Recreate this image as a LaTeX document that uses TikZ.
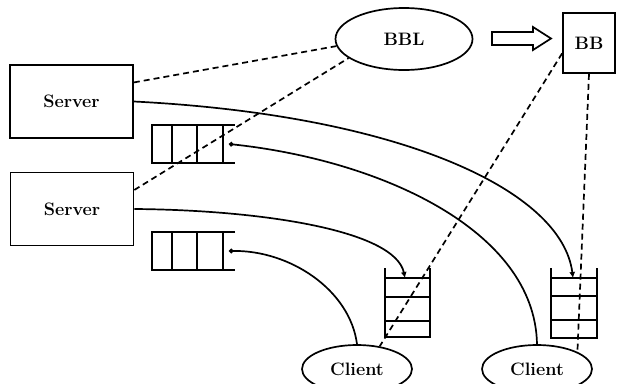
\documentclass[tikz,border=0pt]{standalone}
\usepackage{fontspec}
\usepackage{tikz}
\usetikzlibrary{arrows.meta,shapes.geometric}

\begin{document}
\begin{tikzpicture}[x=1pt, y=-1pt, line width=1.7pt, every node/.style={font=\fontsize{18}{21}\selectfont\bfseries}, srv/.style={rectangle, draw, minimum width=123pt, minimum height=73pt}, oval/.style={ellipse, draw, inner sep=0pt}, arr/.style={-{Latex[length=6pt,width=6pt]}}, dotarr/.style={-{Circle[length=4.5pt]}}, dsh/.style={dash pattern=on 6pt off 4pt}]
\useasboundingbox (0,0) rectangle (617,383); \clip (0,0) rectangle (617,383);
\node[srv] (s1) at (71.5,101.5) {Server};
\node[srv] (s2) at (72,209) {Server};
\node[oval, minimum width=137pt, minimum height=62pt] (bbl) at (404,39) {BBL};
\node[rectangle, draw, minimum width=52pt, minimum height=60pt] (bb) at (589,43) {BB};
\node[oval, minimum width=110pt, minimum height=48pt] (c1) at (357,369) {Client};
\node[oval, minimum width=110pt, minimum height=48pt] (c2) at (537,369) {Client};
% hollow arrow BBL => BB
\draw (492,32) -- (533,32) -- (533,27) -- (551,38.5) -- (533,50) -- (533,45) -- (492,45) -- cycle;
% queues
\draw (235,125) -- (152,125) -- (152,163) -- (235,163); \draw (172,125) -- (172,163); \draw (197,125) -- (197,163); \draw (223,125) -- (223,163);
\draw (235,232) -- (152,232) -- (152,270) -- (235,270); \draw (172,232) -- (172,270); \draw (197,232) -- (197,270); \draw (223,232) -- (223,270);
\draw (385,268) -- (385,337) -- (430,337) -- (430,268); \draw (385,278) -- (430,278); \draw (385,297) -- (430,297); \draw (385,321) -- (430,321);
\draw (551,268) -- (551,338) -- (597,338) -- (597,268); \draw (551,278) -- (597,278); \draw (551,296) -- (597,296); \draw (551,320) -- (597,320);
\coordinate (h1) at (229,144); \coordinate (h2) at (229,251); \coordinate (v1) at (405,278); \coordinate (v2) at (573,278);
% links
\draw[dsh] (s1.17) -- (bbl.186); \draw[dsh] (s2.17) -- (bbl.199);
\draw[dsh] (bb.201) -- (c1.45); \draw[dsh] (bb.south) -- (c2.23);
\draw[arr] (s1.east) .. controls (400,115) and (562,190) .. (v2);
\draw[arr] (s2.east) .. controls (260,210) and (395,230) .. (v1);
\draw[dotarr] (c1.north) .. controls (350,290) and (290,250) .. (h2);
\draw[dotarr] (c2.north) .. controls (535,230) and (380,160) .. (h1);
\end{tikzpicture}
\end{document}
